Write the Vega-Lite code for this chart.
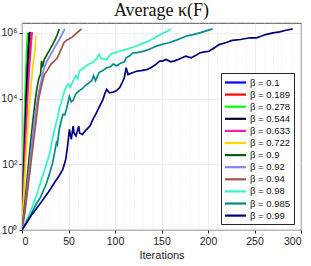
{
  "$schema": "https://vega.github.io/schema/vega-lite/v6.json",
  "autosize": {"type": "none"},
  "padding": {"left": 22, "top": 23, "right": 10, "bottom": 36},
  "width": 279,
  "height": 207,
  "background": "white",
  "title": {"text": "Average κ(F)", "font": "Liberation Serif", "fontSize": 18, "fontWeight": "normal", "color": "#111111", "anchor": "middle", "offset": 3},
  "config": {
    "view": {"stroke": "#262626", "strokeWidth": 0.8},
    "axis": {"labelFont": "Liberation Sans", "labelFontSize": 10.5, "labelColor": "#262626", "titleFont": "Liberation Sans", "titleFontSize": 11, "titleFontWeight": "normal", "titleColor": "#262626", "domain": false},
    "legend": {"labelFont": "Liberation Sans"}
  },
  "data": {"values": [
    {"beta": "β = 0.1", "iter": 0, "kappa": 1}, {"beta": "β = 0.1", "iter": 2, "kappa": 200}, {"beta": "β = 0.1", "iter": 4, "kappa": 15800}, {"beta": "β = 0.1", "iter": 6, "kappa": 400000}, {"beta": "β = 0.1", "iter": 7, "kappa": 1000000},
    {"beta": "β = 0.189", "iter": 0, "kappa": 1}, {"beta": "β = 0.189", "iter": 2, "kappa": 45}, {"beta": "β = 0.189", "iter": 4, "kappa": 1260}, {"beta": "β = 0.189", "iter": 6, "kappa": 20000}, {"beta": "β = 0.189", "iter": 8, "kappa": 178000}, {"beta": "β = 0.189", "iter": 10, "kappa": 1050000},
    {"beta": "β = 0.278", "iter": 0, "kappa": 1}, {"beta": "β = 0.278", "iter": 1, "kappa": 25}, {"beta": "β = 0.278", "iter": 2, "kappa": 500}, {"beta": "β = 0.278", "iter": 3, "kappa": 6300}, {"beta": "β = 0.278", "iter": 4, "kappa": 56000}, {"beta": "β = 0.278", "iter": 5, "kappa": 320000}, {"beta": "β = 0.278", "iter": 6, "kappa": 1000000},
    {"beta": "β = 0.544", "iter": 0, "kappa": 1}, {"beta": "β = 0.544", "iter": 2, "kappa": 100}, {"beta": "β = 0.544", "iter": 4, "kappa": 5000}, {"beta": "β = 0.544", "iter": 6, "kappa": 100000}, {"beta": "β = 0.544", "iter": 8, "kappa": 1000000}, {"beta": "β = 0.544", "iter": 9, "kappa": 1050000},
    {"beta": "β = 0.633", "iter": 0, "kappa": 1}, {"beta": "β = 0.633", "iter": 2, "kappa": 32}, {"beta": "β = 0.633", "iter": 4, "kappa": 708}, {"beta": "β = 0.633", "iter": 6, "kappa": 10000}, {"beta": "β = 0.633", "iter": 8, "kappa": 89000}, {"beta": "β = 0.633", "iter": 10, "kappa": 500000}, {"beta": "β = 0.633", "iter": 11, "kappa": 1050000},
    {"beta": "β = 0.722", "iter": 0, "kappa": 1}, {"beta": "β = 0.722", "iter": 2, "kappa": 12.6}, {"beta": "β = 0.722", "iter": 4, "kappa": 126}, {"beta": "β = 0.722", "iter": 6, "kappa": 1000}, {"beta": "β = 0.722", "iter": 8, "kappa": 6300}, {"beta": "β = 0.722", "iter": 10, "kappa": 32000}, {"beta": "β = 0.722", "iter": 12, "kappa": 112000}, {"beta": "β = 0.722", "iter": 14, "kappa": 320000}, {"beta": "β = 0.722", "iter": 15, "kappa": 830000},
    {"beta": "β = 0.9", "iter": 0, "kappa": 1}, {"beta": "β = 0.9", "iter": 3, "kappa": 6.3}, {"beta": "β = 0.9", "iter": 6, "kappa": 50}, {"beta": "β = 0.9", "iter": 9, "kappa": 400}, {"beta": "β = 0.9", "iter": 12, "kappa": 2500}, {"beta": "β = 0.9", "iter": 14, "kappa": 7900}, {"beta": "β = 0.9", "iter": 16, "kappa": 20000}, {"beta": "β = 0.9", "iter": 18, "kappa": 40000}, {"beta": "β = 0.9", "iter": 20, "kappa": 56000}, {"beta": "β = 0.9", "iter": 21, "kappa": 141000}, {"beta": "β = 0.9", "iter": 22, "kappa": 89000}, {"beta": "β = 0.9", "iter": 24, "kappa": 158000}, {"beta": "β = 0.9", "iter": 27, "kappa": 224000}, {"beta": "β = 0.9", "iter": 30, "kappa": 316000}, {"beta": "β = 0.9", "iter": 33, "kappa": 447000}, {"beta": "β = 0.9", "iter": 36, "kappa": 660000}, {"beta": "β = 0.9", "iter": 38, "kappa": 890000}, {"beta": "β = 0.9", "iter": 40, "kappa": 1320000},
    {"beta": "β = 0.92", "iter": 0, "kappa": 1}, {"beta": "β = 0.92", "iter": 3, "kappa": 4}, {"beta": "β = 0.92", "iter": 6, "kappa": 25}, {"beta": "β = 0.92", "iter": 9, "kappa": 158}, {"beta": "β = 0.92", "iter": 12, "kappa": 1000}, {"beta": "β = 0.92", "iter": 15, "kappa": 5000}, {"beta": "β = 0.92", "iter": 18, "kappa": 15800}, {"beta": "β = 0.92", "iter": 21, "kappa": 40000}, {"beta": "β = 0.92", "iter": 24, "kappa": 89000}, {"beta": "β = 0.92", "iter": 27, "kappa": 141000}, {"beta": "β = 0.92", "iter": 30, "kappa": 200000}, {"beta": "β = 0.92", "iter": 33, "kappa": 280000}, {"beta": "β = 0.92", "iter": 36, "kappa": 400000}, {"beta": "β = 0.92", "iter": 39, "kappa": 560000}, {"beta": "β = 0.92", "iter": 42, "kappa": 790000}, {"beta": "β = 0.92", "iter": 46, "kappa": 1320000},
    {"beta": "β = 0.94", "iter": 0, "kappa": 1}, {"beta": "β = 0.94", "iter": 3, "kappa": 3.2}, {"beta": "β = 0.94", "iter": 6, "kappa": 16}, {"beta": "β = 0.94", "iter": 9, "kappa": 79}, {"beta": "β = 0.94", "iter": 12, "kappa": 400}, {"beta": "β = 0.94", "iter": 15, "kappa": 2000}, {"beta": "β = 0.94", "iter": 18, "kappa": 10000}, {"beta": "β = 0.94", "iter": 21, "kappa": 25000}, {"beta": "β = 0.94", "iter": 24, "kappa": 54000}, {"beta": "β = 0.94", "iter": 27, "kappa": 71000}, {"beta": "β = 0.94", "iter": 31, "kappa": 110000}, {"beta": "β = 0.94", "iter": 35, "kappa": 141000}, {"beta": "β = 0.94", "iter": 38, "kappa": 174000}, {"beta": "β = 0.94", "iter": 42, "kappa": 316000}, {"beta": "β = 0.94", "iter": 45, "kappa": 500000}, {"beta": "β = 0.94", "iter": 48, "kappa": 600000}, {"beta": "β = 0.94", "iter": 51, "kappa": 660000}, {"beta": "β = 0.94", "iter": 54, "kappa": 740000}, {"beta": "β = 0.94", "iter": 58, "kappa": 950000}, {"beta": "β = 0.94", "iter": 61, "kappa": 1120000}, {"beta": "β = 0.94", "iter": 64, "kappa": 1320000},
    {"beta": "β = 0.98", "iter": 0, "kappa": 1}, {"beta": "β = 0.98", "iter": 5, "kappa": 2}, {"beta": "β = 0.98", "iter": 10, "kappa": 4.2}, {"beta": "β = 0.98", "iter": 15, "kappa": 10}, {"beta": "β = 0.98", "iter": 20, "kappa": 28}, {"beta": "β = 0.98", "iter": 25, "kappa": 79}, {"beta": "β = 0.98", "iter": 30, "kappa": 224}, {"beta": "β = 0.98", "iter": 33, "kappa": 631}, {"beta": "β = 0.98", "iter": 35, "kappa": 1150}, {"beta": "β = 0.98", "iter": 38, "kappa": 2500}, {"beta": "β = 0.98", "iter": 40, "kappa": 4700}, {"beta": "β = 0.98", "iter": 42, "kappa": 7100}, {"beta": "β = 0.98", "iter": 44, "kappa": 11700}, {"beta": "β = 0.98", "iter": 46, "kappa": 17800}, {"beta": "β = 0.98", "iter": 48, "kappa": 24000}, {"beta": "β = 0.98", "iter": 50, "kappa": 28000}, {"beta": "β = 0.98", "iter": 52, "kappa": 22400}, {"beta": "β = 0.98", "iter": 55, "kappa": 35000}, {"beta": "β = 0.98", "iter": 58, "kappa": 50000}, {"beta": "β = 0.98", "iter": 60, "kappa": 40000}, {"beta": "β = 0.98", "iter": 62, "kappa": 71000}, {"beta": "β = 0.98", "iter": 65, "kappa": 79000}, {"beta": "β = 0.98", "iter": 68, "kappa": 95000}, {"beta": "β = 0.98", "iter": 72, "kappa": 112000}, {"beta": "β = 0.98", "iter": 76, "kappa": 126000}, {"beta": "β = 0.98", "iter": 80, "kappa": 158000}, {"beta": "β = 0.98", "iter": 83, "kappa": 224000}, {"beta": "β = 0.98", "iter": 85, "kappa": 166000}, {"beta": "β = 0.98", "iter": 88, "kappa": 158000}, {"beta": "β = 0.98", "iter": 91, "kappa": 155000}, {"beta": "β = 0.98", "iter": 95, "kappa": 220000}, {"beta": "β = 0.98", "iter": 100, "kappa": 250000}, {"beta": "β = 0.98", "iter": 105, "kappa": 275000}, {"beta": "β = 0.98", "iter": 112, "kappa": 316000}, {"beta": "β = 0.98", "iter": 118, "kappa": 360000}, {"beta": "β = 0.98", "iter": 123, "kappa": 400000}, {"beta": "β = 0.98", "iter": 130, "kappa": 480000}, {"beta": "β = 0.98", "iter": 136, "kappa": 560000}, {"beta": "β = 0.98", "iter": 141, "kappa": 660000}, {"beta": "β = 0.98", "iter": 147, "kappa": 830000}, {"beta": "β = 0.98", "iter": 152, "kappa": 1000000}, {"beta": "β = 0.98", "iter": 157, "kappa": 1150000}, {"beta": "β = 0.98", "iter": 160, "kappa": 1320000},
    {"beta": "β = 0.985", "iter": 0, "kappa": 1}, {"beta": "β = 0.985", "iter": 5, "kappa": 1.78}, {"beta": "β = 0.985", "iter": 10, "kappa": 3.16}, {"beta": "β = 0.985", "iter": 15, "kappa": 6}, {"beta": "β = 0.985", "iter": 20, "kappa": 10}, {"beta": "β = 0.985", "iter": 26, "kappa": 25}, {"beta": "β = 0.985", "iter": 30, "kappa": 56}, {"beta": "β = 0.985", "iter": 33, "kappa": 112}, {"beta": "β = 0.985", "iter": 35, "kappa": 224}, {"beta": "β = 0.985", "iter": 37, "kappa": 457}, {"beta": "β = 0.985", "iter": 38, "kappa": 400}, {"beta": "β = 0.985", "iter": 40, "kappa": 1150}, {"beta": "β = 0.985", "iter": 42, "kappa": 2000}, {"beta": "β = 0.985", "iter": 44, "kappa": 3300}, {"beta": "β = 0.985", "iter": 46, "kappa": 3160}, {"beta": "β = 0.985", "iter": 48, "kappa": 5000}, {"beta": "β = 0.985", "iter": 51, "kappa": 11700}, {"beta": "β = 0.985", "iter": 53, "kappa": 7900}, {"beta": "β = 0.985", "iter": 55, "kappa": 8900}, {"beta": "β = 0.985", "iter": 58, "kappa": 14100}, {"beta": "β = 0.985", "iter": 62, "kappa": 17800}, {"beta": "β = 0.985", "iter": 65, "kappa": 20000}, {"beta": "β = 0.985", "iter": 68, "kappa": 25000}, {"beta": "β = 0.985", "iter": 72, "kappa": 30000}, {"beta": "β = 0.985", "iter": 75, "kappa": 35000}, {"beta": "β = 0.985", "iter": 77, "kappa": 50000}, {"beta": "β = 0.985", "iter": 79, "kappa": 35000}, {"beta": "β = 0.985", "iter": 83, "kappa": 63000}, {"beta": "β = 0.985", "iter": 87, "kappa": 71000}, {"beta": "β = 0.985", "iter": 91, "kappa": 87000}, {"beta": "β = 0.985", "iter": 95, "kappa": 93000}, {"beta": "β = 0.985", "iter": 98, "kappa": 112000}, {"beta": "β = 0.985", "iter": 102, "kappa": 100000}, {"beta": "β = 0.985", "iter": 106, "kappa": 120000}, {"beta": "β = 0.985", "iter": 110, "kappa": 132000}, {"beta": "β = 0.985", "iter": 112, "kappa": 174000}, {"beta": "β = 0.985", "iter": 116, "kappa": 200000}, {"beta": "β = 0.985", "iter": 119, "kappa": 245000}, {"beta": "β = 0.985", "iter": 124, "kappa": 250000}, {"beta": "β = 0.985", "iter": 130, "kappa": 275000}, {"beta": "β = 0.985", "iter": 137, "kappa": 316000}, {"beta": "β = 0.985", "iter": 144, "kappa": 390000}, {"beta": "β = 0.985", "iter": 151, "kappa": 450000}, {"beta": "β = 0.985", "iter": 158, "kappa": 500000}, {"beta": "β = 0.985", "iter": 166, "kappa": 600000}, {"beta": "β = 0.985", "iter": 176, "kappa": 790000}, {"beta": "β = 0.985", "iter": 184, "kappa": 890000}, {"beta": "β = 0.985", "iter": 191, "kappa": 1000000}, {"beta": "β = 0.985", "iter": 198, "kappa": 1150000}, {"beta": "β = 0.985", "iter": 205, "kappa": 1320000},
    {"beta": "β = 0.99", "iter": 0, "kappa": 1}, {"beta": "β = 0.99", "iter": 5, "kappa": 1.66}, {"beta": "β = 0.99", "iter": 10, "kappa": 2.8}, {"beta": "β = 0.99", "iter": 15, "kappa": 4.3}, {"beta": "β = 0.99", "iter": 20, "kappa": 6.6}, {"beta": "β = 0.99", "iter": 25, "kappa": 10.5}, {"beta": "β = 0.99", "iter": 30, "kappa": 16.6}, {"beta": "β = 0.99", "iter": 35, "kappa": 28}, {"beta": "β = 0.99", "iter": 40, "kappa": 45}, {"beta": "β = 0.99", "iter": 44, "kappa": 71}, {"beta": "β = 0.99", "iter": 47, "kappa": 141}, {"beta": "β = 0.99", "iter": 49, "kappa": 355}, {"beta": "β = 0.99", "iter": 51, "kappa": 1150}, {"beta": "β = 0.99", "iter": 52, "kappa": 794}, {"beta": "β = 0.99", "iter": 53, "kappa": 575}, {"beta": "β = 0.99", "iter": 55, "kappa": 1450}, {"beta": "β = 0.99", "iter": 56, "kappa": 890}, {"beta": "β = 0.99", "iter": 58, "kappa": 725}, {"beta": "β = 0.99", "iter": 61, "kappa": 1450}, {"beta": "β = 0.99", "iter": 62, "kappa": 890}, {"beta": "β = 0.99", "iter": 65, "kappa": 813}, {"beta": "β = 0.99", "iter": 69, "kappa": 1120}, {"beta": "β = 0.99", "iter": 73, "kappa": 1450}, {"beta": "β = 0.99", "iter": 76, "kappa": 2240}, {"beta": "β = 0.99", "iter": 80, "kappa": 3700}, {"beta": "β = 0.99", "iter": 84, "kappa": 6300}, {"beta": "β = 0.99", "iter": 87, "kappa": 9300}, {"beta": "β = 0.99", "iter": 89, "kappa": 14100}, {"beta": "β = 0.99", "iter": 91, "kappa": 19000}, {"beta": "β = 0.99", "iter": 94, "kappa": 15100}, {"beta": "β = 0.99", "iter": 98, "kappa": 15800}, {"beta": "β = 0.99", "iter": 101, "kappa": 17000}, {"beta": "β = 0.99", "iter": 105, "kappa": 21400}, {"beta": "β = 0.99", "iter": 108, "kappa": 31600}, {"beta": "β = 0.99", "iter": 110, "kappa": 43000}, {"beta": "β = 0.99", "iter": 112, "kappa": 87000}, {"beta": "β = 0.99", "iter": 114, "kappa": 54000}, {"beta": "β = 0.99", "iter": 118, "kappa": 60000}, {"beta": "β = 0.99", "iter": 123, "kappa": 68000}, {"beta": "β = 0.99", "iter": 128, "kappa": 71000}, {"beta": "β = 0.99", "iter": 134, "kappa": 76000}, {"beta": "β = 0.99", "iter": 139, "kappa": 89000}, {"beta": "β = 0.99", "iter": 144, "kappa": 110000}, {"beta": "β = 0.99", "iter": 148, "kappa": 138000}, {"beta": "β = 0.99", "iter": 151, "kappa": 138000}, {"beta": "β = 0.99", "iter": 155, "kappa": 155000}, {"beta": "β = 0.99", "iter": 160, "kappa": 132000}, {"beta": "β = 0.99", "iter": 164, "kappa": 141000}, {"beta": "β = 0.99", "iter": 168, "kappa": 155000}, {"beta": "β = 0.99", "iter": 172, "kappa": 174000}, {"beta": "β = 0.99", "iter": 176, "kappa": 195000}, {"beta": "β = 0.99", "iter": 182, "kappa": 174000}, {"beta": "β = 0.99", "iter": 186, "kappa": 200000}, {"beta": "β = 0.99", "iter": 191, "kappa": 245000}, {"beta": "β = 0.99", "iter": 196, "kappa": 263000}, {"beta": "β = 0.99", "iter": 201, "kappa": 275000}, {"beta": "β = 0.99", "iter": 207, "kappa": 355000}, {"beta": "β = 0.99", "iter": 212, "kappa": 440000}, {"beta": "β = 0.99", "iter": 219, "kappa": 500000}, {"beta": "β = 0.99", "iter": 226, "kappa": 590000}, {"beta": "β = 0.99", "iter": 235, "kappa": 630000}, {"beta": "β = 0.99", "iter": 245, "kappa": 710000}, {"beta": "β = 0.99", "iter": 252, "kappa": 710000}, {"beta": "β = 0.99", "iter": 257, "kappa": 790000}, {"beta": "β = 0.99", "iter": 262, "kappa": 890000}, {"beta": "β = 0.99", "iter": 270, "kappa": 1000000}, {"beta": "β = 0.99", "iter": 277, "kappa": 1070000}, {"beta": "β = 0.99", "iter": 284, "kappa": 1200000}, {"beta": "β = 0.99", "iter": 291, "kappa": 1320000}
  ]},
  "mark": {"type": "line", "strokeWidth": 1.7, "clip": true},
  "encoding": {
    "x": {
      "field": "iter", "type": "quantitative",
      "scale": {"domain": [0, 300], "nice": false, "zero": false},
      "axis": {
        "title": "Iterations", "titlePadding": 3,
        "values": [0, 10, 20, 30, 40, 50, 60, 70, 80, 90, 100, 110, 120, 130, 140, 150, 160, 170, 180, 190, 200, 210, 220, 230, 240, 250, 260, 270, 280, 290, 300],
        "labelExpr": "datum.value % 50 === 0 ? datum.label : ''",
        "labelPadding": 3,
        "tickSize": 3, "tickColor": "#262626",
        "tickOpacity": {"condition": {"test": "datum.value % 50 === 0", "value": 1}, "value": 0},
        "gridColor": {"condition": {"test": "datum.value % 50 === 0", "value": "#e3e3e3"}, "value": "#d6d6d6"},
        "gridDash": {"condition": {"test": "datum.value % 50 === 0", "value": []}, "value": [1, 2]},
        "gridWidth": 0.6
      }
    },
    "y": {
      "field": "kappa", "type": "quantitative",
      "scale": {"type": "log", "domain": [1, 2000000], "nice": false},
      "axis": {
        "title": null,
        "values": [1, 100, 10000, 1000000],
        "labelExpr": "datum.value == 1 ? '10⁰' : datum.value == 100 ? '10²' : datum.value == 10000 ? '10⁴' : '10⁶'",
        "labelPadding": 2, "tickSize": 3, "tickColor": "#262626",
        "gridColor": "#e3e3e3", "gridWidth": 0.6
      }
    },
    "color": {
      "field": "beta", "type": "nominal",
      "scale": {
        "domain": ["β = 0.1", "β = 0.189", "β = 0.278", "β = 0.544", "β = 0.633", "β = 0.722", "β = 0.9", "β = 0.92", "β = 0.94", "β = 0.98", "β = 0.985", "β = 0.99"],
        "range": ["#0000ff", "#ff0000", "#00ff00", "#000033", "#ff1aa8", "#ffd500", "#0b5e0b", "#8080ff", "#a0524a", "#33f5c5", "#008b8b", "#000080"]
      },
      "legend": {
        "title": null, "orient": "none", "legendX": 199, "legendY": 50,
        "fillColor": "white", "strokeColor": "#262626", "padding": 3,
        "symbolType": "M-2,0H2", "symbolSize": 110, "symbolStrokeWidth": 2.2, "symbolOffset": 5,
        "labelFontSize": 9.5, "labelColor": "#111111", "rowPadding": 1.1, "labelOffset": 8
      }
    }
  }
}
